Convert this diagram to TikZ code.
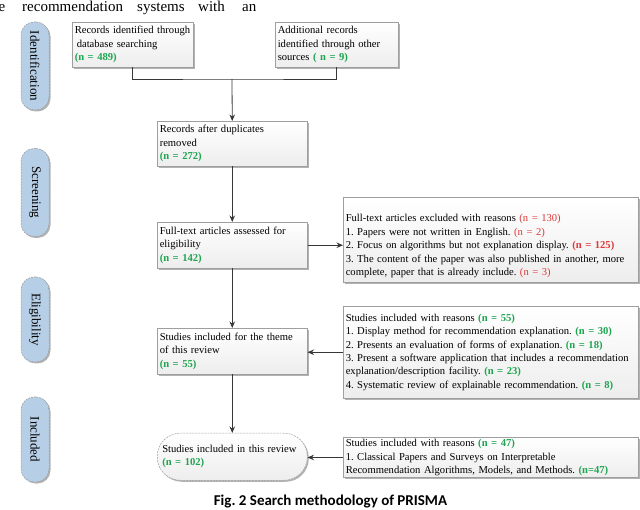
\documentclass[tikz,border=0pt]{standalone}
\usepackage{fontspec}
\setmainfont{Liberation Serif}
\newfontfamily\capfont{Carlito}
\usetikzlibrary{shadows,arrows.meta}
\definecolor{ngreen}{RGB}{30,165,80}
\definecolor{nred}{RGB}{225,55,55}
\definecolor{phasefill}{RGB}{183,207,230}
\definecolor{linecol}{RGB}{55,55,55}
\newcommand{\ngr}[1]{\textcolor{ngreen}{\textbf{#1}}}
\newcommand{\nrd}[1]{\textcolor{nred}{#1}}
\frenchspacing
\begin{document}
\frenchspacing
\begin{tikzpicture}[x=1pt,y=-1pt,
  font=\fontsize{10.6}{13.4}\selectfont\frenchspacing,
  shad/.style={drop shadow={shadow xshift=1.5pt, shadow yshift=-1.5pt, opacity=0.3, fill=black}},
  box/.style={draw=gray!75, line width=0.5pt, top color=white, bottom color=gray!14, shad,
    anchor=north west, align=left, inner xsep=2.5pt, inner ysep=2pt},
  phase/.style={draw=gray!80, dash pattern=on 2pt off 1pt, line width=0.5pt, fill=phasefill,
    rounded corners=13pt, minimum width=28pt, minimum height=88pt, inner sep=0pt,
    font=\fontsize{13}{13}\selectfont, shad},
  toptext/.style={font=\fontsize{15}{15}\selectfont, anchor=base west, inner sep=0pt},
  conn/.style={draw=linecol, line width=0.8pt},
  arr/.style={conn, -{Stealth[length=6.5pt,width=5.5pt]}}]
\useasboundingbox (0,0) rectangle (640,510);

% running text at the top
\node[toptext] (t1) at (-1.5,11.5) {e};
\node[toptext] (t2) at (22,11.5) {recommendation};
\node[toptext] (t3) at (137,11.5) {systems};
\node[toptext] (t4) at (198,11.5) {with};
\node[toptext] (t5) at (242,11.5) {an};

% phases
\node[phase] (p1) at (35,66) {\rotatebox{-90}{Identification}};
\node[phase] (p2) at (35,192.5) {\rotatebox{-90}{Screening}};
\node[phase, minimum height=85pt] (p3) at (35,319.5) {\rotatebox{-90}{Eligibility}};
\node[phase, minimum height=85pt] (p4) at (35,439.5) {\rotatebox{-90}{Included}};

% boxes
\node[box, minimum width=121pt, minimum height=45pt, text width=116pt] (b1) at (72,22)
  {Records identified through\\\hspace{2pt}database searching\\\ngr{(n = 489)}};
\node[box, minimum width=123pt, minimum height=45pt, text width=118pt] (b2) at (275,22)
  {Additional records\\identified through other\\sources \ngr{( n = 9)}};
\node[box, minimum width=150pt, minimum height=45pt, text width=145pt] (b3) at (157,121)
  {Records after duplicates\\removed\\\ngr{(n = 272)}};
\node[box, minimum width=150pt, minimum height=46pt, text width=145pt] (b4) at (157,222)
  {Full-text articles assessed for\\eligibility\\\ngr{(n = 142)}};
\node[box, minimum width=295pt, minimum height=85pt, text width=290pt] (ex) at (343,197)
  {\rule{0pt}{20pt}Full-text articles excluded with reasons \nrd{(n = 130)}\\
   1. Papers were not written in English. \nrd{(n = 2)}\\
   2. Focus on algorithms but not explanation display. \nrd{\textbf{(n = 125)}}\\
   3. The content of the paper was also published in another, more\\
   complete, paper that is already include. \nrd{(n = 3)}};
\node[box, minimum width=150pt, minimum height=46pt, text width=145pt] (b5) at (157,328)
  {Studies included for the theme\\of this review\\\ngr{(n = 55)}};
\node[box, minimum width=295pt, minimum height=92pt, text width=290pt] (in1) at (343,306)
  {Studies included with reasons \ngr{(n = 55)}\\
   1. Display method for recommendation explanation. \ngr{(n = 30)}\\
   2. Presents an evaluation of forms of explanation. \ngr{(n = 18)}\\
   3. Present a software application that includes a recommendation\\
   explanation/description facility. \ngr{(n = 23)}\\
   4. Systematic review of explainable recommendation. \ngr{(n = 8)}};
\node[box, dash pattern=on 2pt off 1pt, rounded corners=23pt, inner xsep=5pt,
  minimum width=150pt, minimum height=47pt, text width=140pt] (b6) at (157,433)
  {Studies included in this review\\\ngr{(n = 102)}};
\node[box, minimum width=295pt, minimum height=39pt, text width=290pt] (in2) at (343,437)
  {Studies included with reasons \ngr{(n = 47)}\\
   1. Classical Papers and Surveys on Interpretable\\
   Recommendation Algorithms, Models, and Methods. \ngr{(n=47)}};

% connectors
\coordinate (j) at (232,79);
\draw[conn] (b1.south) |- (j) -| (b2.south);
\draw[arr] (j) -- (b3.north);
\draw[arr] (b3.south) -- (b4.north);
\draw[arr] (b4.east) -- (b4.east -| ex.west);
\draw[arr] (b4.south) -- (b5.north);
\draw[arr] (in1.west) -- (in1.west -| b5.east);
\draw[arr] (b5.south) -- (b6.north);
\draw[arr] (in2.west) -- (in2.west -| b6.east);

% caption
\node[font=\capfont\bfseries\fontsize{15}{15}\selectfont, anchor=base, inner sep=0pt] (cap)
  at (330.5,505) {Fig. 2 Search methodology of PRISMA};
\end{tikzpicture}
\end{document}
